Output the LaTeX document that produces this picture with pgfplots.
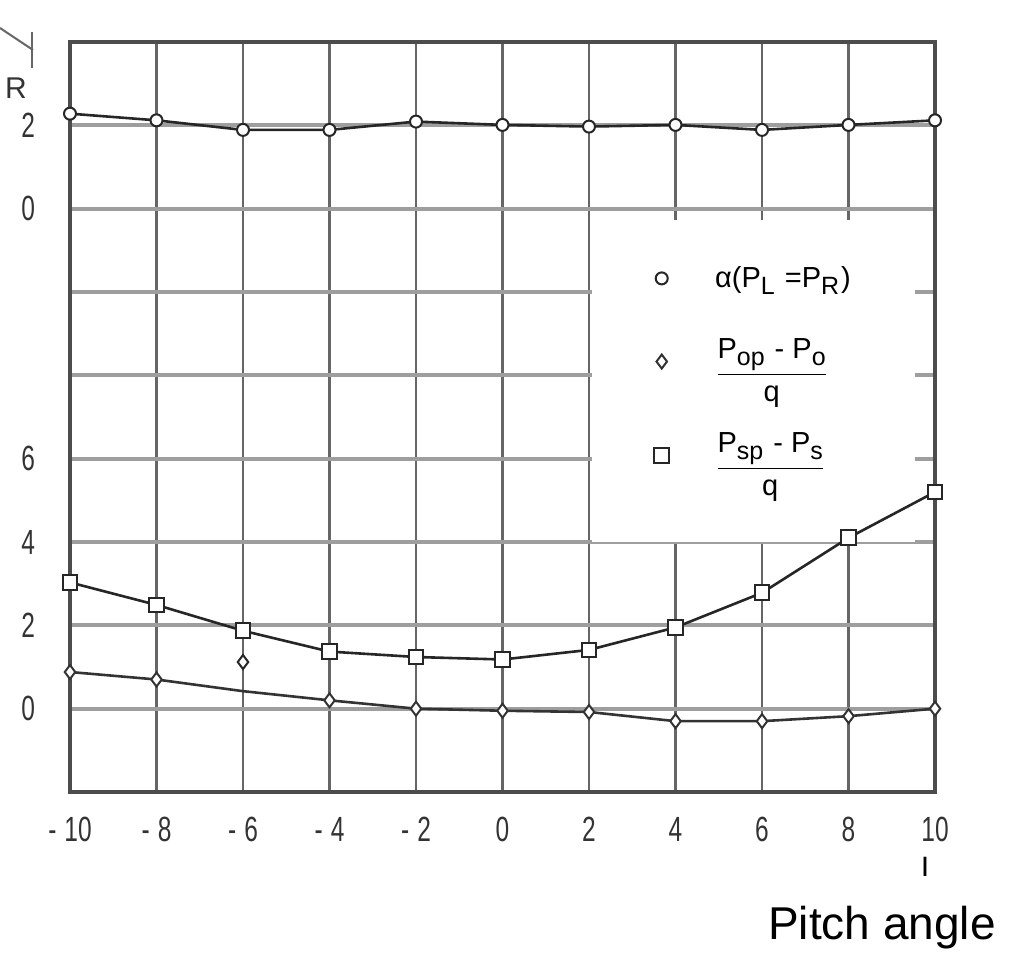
\documentclass[border=0pt]{standalone}
\usepackage{amsmath}
\usepackage{fontspec}
\setmainfont{Liberation Sans}
\newfontfamily\tickfont[FakeStretch=0.7]{Liberation Sans}
\usepackage{pgfplots}
\pgfplotsset{compat=1.18}
% near full-size, lowered subscripts as in the scanned legend
\newcommand\sub[1]{\raisebox{-0.45ex}{\fontsize{12.5}{14}\selectfont #1}}

\begin{document}
\begin{tikzpicture}
\begin{axis}[
    set layers,
    scale only axis,
    width=432.5pt, height=375pt,
    xmin=-10, xmax=10,
    ymin=-2, ymax=16,
    xtick={-10,-8,...,10},
    xticklabels={-\kern4pt10,-\kern4pt8,-\kern4pt6,-\kern4pt4,-\kern4pt2,0,2,4,6,8,10},
    ytick={-2,0,...,16},
    yticklabels={{},0,2,4,6,{},{},0,2,{}},
    tick label style={font=\tickfont\fontsize{17.5}{19}\selectfont, text=black!80},
    xticklabel style={yshift=-9pt},
    yticklabel style={xshift=-14pt},
    major tick length=0pt,
    grid=major,
    major x grid style={black!60, line width=1.4pt},
    major y grid style={black!38, line width=2pt},
    axis line style={black!70, line width=1.8pt},
    legend style={at={(rel axis cs:0.6035,0.7627)}, anchor=north west,
        fill=none, draw=none, inner xsep=4pt, inner ysep=21pt,
        row sep=20pt, column sep=21pt, cells={anchor=west},
        font=\fontsize{14.5}{16}\selectfont},
    legend image code/.code={
        \path (-30pt,0pt) (0pt,0pt);
        \draw[#1, only marks] plot coordinates {(0pt,0pt)};
    },
]
% white patch behind the legend, hides the grid there
\begin{pgfonlayer}{axis ticks}
\fill[white] (rel axis cs:0.6035,0.3333) rectangle (rel axis cs:0.9769,0.7627);
\end{pgfonlayer}
% alpha (P_L = P_R)
\addplot[black!85, line width=1.3pt,
    mark=*, mark size=3pt, mark options={fill=white, line width=1pt}]
    coordinates {
        (-10,14.28) (-8,14.12) (-6,13.89) (-4,13.89) (-2,14.09) (0,14.01)
        (2,13.97) (4,14.01) (6,13.89) (8,14.01) (10,14.12)
    };
\addlegendentry{α(P\sub{L} \kern1pt=P\sub{R}\kern1pt)}
% (P_op - P_o)/q
\addplot[black!80, line width=1.3pt,
    mark=diamond*, mark size=3.5pt, mark indices={1,2,4,5,6,7,8,9,10,11},
    mark options={fill=white, line width=1pt}]
    coordinates {
        (-10,0.88) (-8,0.70) (-6,0.42) (-4,0.20) (-2,0.00) (0,-0.05)
        (2,-0.08) (4,-0.30) (6,-0.30) (8,-0.18) (10,0.00)
    };
\addlegendentry{$\dfrac{\text{P\sub{op} \kern1pt- P\sub{o}}}{\text{q}}$}
% (P_sp - P_s)/q
\addplot[black!85, line width=1.3pt,
    mark=square*, mark size=3.7pt, mark options={fill=white, line width=1pt}]
    coordinates {
        (-10,3.03) (-8,2.49) (-6,1.87) (-4,1.37) (-2,1.24) (0,1.18)
        (2,1.41) (4,1.95) (6,2.78) (8,4.10) (10,5.20)
    };
\addlegendentry{$\dfrac{\text{P\sub{sp} \kern1pt- P\sub{s}}}{\text{q}}$}
% stray diamond mark above the curve at -6
\addplot[forget plot, only marks, black!85,
    mark=diamond*, mark size=3.5pt, mark options={fill=white, line width=1pt}]
    coordinates {(-6,1.12)};
\end{axis}
\node[font=\fontsize{23}{27}\selectfont] at (406pt,-68pt) {Pitch angle};
\node[font=\tickfont\bfseries\fontsize{14}{16}\selectfont] at (427.5pt,-37.5pt) {I};
\node[font=\fontsize{15}{17}\selectfont, text=black!80] at (-27pt,352pt) {R};
\draw[black!60, line width=1pt] (-35pt,382pt) -- (-18.5pt,371pt);
\draw[black!60, line width=1pt] (-19pt,380pt) -- (-19pt,362pt);
\pgfresetboundingbox
\path[use as bounding box] (-35pt,-81pt) rectangle (471pt,396pt);
\end{tikzpicture}
\end{document}
